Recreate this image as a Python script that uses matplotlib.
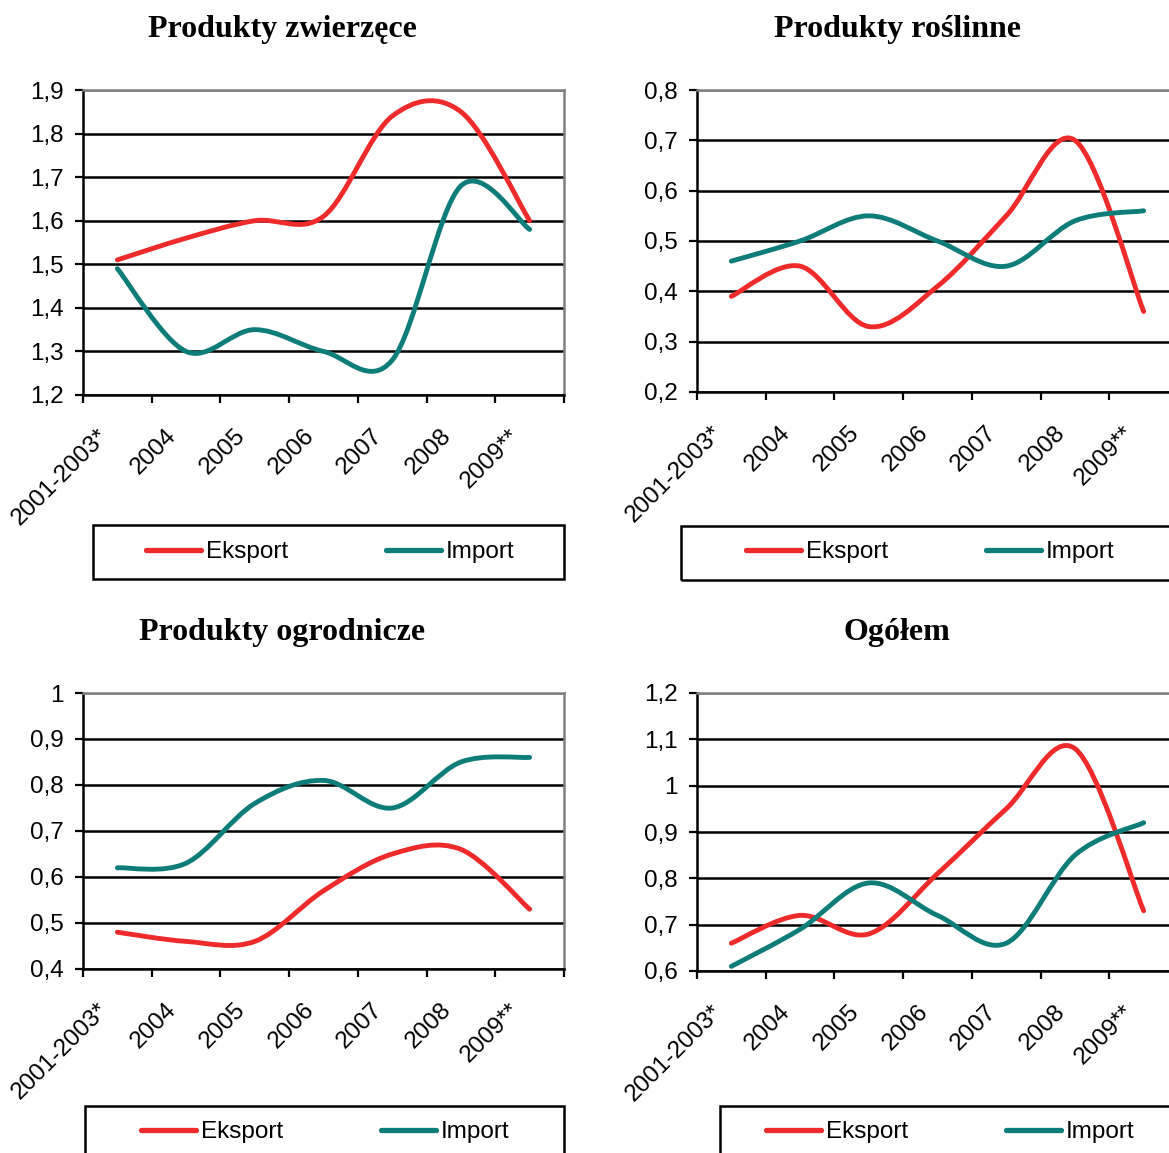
import numpy as np
import matplotlib
matplotlib.use('Agg')
import matplotlib.pyplot as plt
from matplotlib.path import Path
from matplotlib.patches import PathPatch, Rectangle
from matplotlib.lines import Line2D
from matplotlib.ticker import FixedLocator, FuncFormatter, NullFormatter
from matplotlib.transforms import ScaledTranslation

plt.rcParams['font.family'] = ['Liberation Sans', 'DejaVu Sans']

RED = '#EE2A2A'
TEAL = '#0E7C78'
BORDER = '#808080'

W, H = 1169, 1153

categories = ['2001-2003*', '2004', '2005', '2006', '2007', '2008', '2009**']

zw_export = [1.51, 1.56, 1.60, 1.61, 1.84, 1.85, 1.60]
zw_import = [1.49, 1.30, 1.35, 1.30, 1.28, 1.68, 1.58]

ros_export = [0.39, 0.45, 0.33, 0.41, 0.55, 0.70, 0.36]
ros_import = [0.46, 0.50, 0.55, 0.50, 0.45, 0.54, 0.56]

ogr_export = [0.48, 0.46, 0.46, 0.57, 0.65, 0.66, 0.53]
ogr_import = [0.62, 0.63, 0.76, 0.81, 0.75, 0.85, 0.86]

ogol_export = [0.66, 0.72, 0.68, 0.81, 0.95, 1.08, 0.73]
ogol_import = [0.61, 0.69, 0.79, 0.72, 0.66, 0.85, 0.92]

titles = ['Produkty zwierzęce', 'Produkty roślinne', 'Produkty ogrodnicze', 'Ogółem']


def px_rect(l, t, r, b):
    return [l / W, 1 - b / H, (r - l) / W, (b - t) / H]


def smooth_path(xs, ys):
    # Excel-style smoothed line: cubic Bezier segments through every point
    pts = np.column_stack([xs, ys])
    n = len(pts)
    verts = [pts[0]]
    codes = [Path.MOVETO]
    for i in range(n - 1):
        p_prev = pts[max(i - 1, 0)]
        p_next = pts[min(i + 2, n - 1)]
        c1 = pts[i] + (pts[i + 1] - p_prev) / 6
        c2 = pts[i + 1] - (p_next - pts[i]) / 6
        verts += [c1, c2, pts[i + 1]]
        codes += [Path.CURVE4] * 3
    return Path(verts, codes)


def comma_fmt(v, pos):
    return f'{round(v, 2):g}'.replace('.', ',')


panels = [
    # title, export, import, (ymin, ymax), axes px, title pos, legend box px, legend centre
    (titles[0], zw_export, zw_import, (1.2, 1.9), (83, 90, 564, 395), (282, 37),
     (93, 525, 564, 579), (330, 552)),
    (titles[1], ros_export, ros_import, (0.2, 0.8), (697, 90, 1178, 392), (897, 37),
     (681, 526, 1179, 580), (930, 552)),
    (titles[2], ogr_export, ogr_import, (0.4, 1.0), (83, 693, 564, 969), (282, 640),
     (85, 1106, 564, 1160), (325, 1132)),
    (titles[3], ogol_export, ogol_import, (0.6, 1.2), (697, 693, 1178, 971), (897, 640),
     (720, 1106, 1180, 1160), (950, 1132)),
]

fig = plt.figure(figsize=(W / 100, H / 100), dpi=100, facecolor='white')

x = np.arange(len(categories)) + 0.5
TICK_FS = 17.5

for title, exp, imp, (ymin, ymax), ax_px, t_pos, box_px, leg_c in panels:
    ax = fig.add_axes(px_rect(*ax_px))
    ax.set_xlim(0, len(categories))
    ax.set_ylim(ymin, ymax)

    for vals, col in [(exp, RED), (imp, TEAL)]:
        patch = PathPatch(smooth_path(x, vals), fill=False, edgecolor=col,
                          lw=3.5, capstyle='round', joinstyle='round', zorder=3)
        ax.add_patch(patch)

    yticks = np.round(np.arange(ymin, ymax + 0.05, 0.1), 2)
    ax.yaxis.set_major_locator(FixedLocator(yticks))
    ax.yaxis.set_major_formatter(FuncFormatter(comma_fmt))
    ax.xaxis.set_major_locator(FixedLocator(np.arange(len(categories) + 1)))
    ax.xaxis.set_major_formatter(NullFormatter())
    ax.xaxis.set_minor_locator(FixedLocator(x))
    ax.set_xticklabels(categories, minor=True)

    ax.tick_params(axis='y', which='major', direction='out', length=6, width=1.6,
                   pad=8, labelsize=TICK_FS, color='black')
    ax.tick_params(axis='x', which='major', direction='out', length=6, width=1.6,
                   color='black')
    ax.tick_params(axis='x', which='minor', length=0, pad=27, labelsize=TICK_FS)
    shift = ScaledTranslation(-13 / 100, 0, fig.dpi_scale_trans)
    for lab in ax.get_xticklabels(minor=True):
        lab.set_rotation(45)
        lab.set_ha('right')
        lab.set_va('center')
        lab.set_rotation_mode('anchor')
        lab.set_transform(lab.get_transform() + shift)

    ax.set_axisbelow(True)
    ax.grid(True, axis='y', color='black', lw=1.8)
    ax.grid(False, axis='x')
    ax.get_ygridlines()[-1].set_color(BORDER)

    for side in ['left', 'bottom']:
        ax.spines[side].set_color('black')
        ax.spines[side].set_linewidth(1.8)
    for side in ['top', 'right']:
        ax.spines[side].set_color(BORDER)
        ax.spines[side].set_linewidth(1.8)

    fig.text(t_pos[0] / W, 1 - t_pos[1] / H, title, ha='center', va='baseline',
             fontsize=23, fontweight='bold', family='Liberation Serif')

    # legend frame
    l, t, r, b = box_px
    fig.add_artist(Rectangle((l / W, 1 - b / H), (r - l) / W, (b - t) / H,
                             transform=fig.transFigure, fill=False,
                             edgecolor='black', lw=1.8))
    handles = [Line2D([], [], color=RED, lw=3.8, solid_capstyle='round'),
               Line2D([], [], color=TEAL, lw=3.8, solid_capstyle='round')]
    fs = 17.5
    fs_px = fs * 100 / 72
    ax.legend(handles, ['Eksport', 'Import'], loc='center',
              bbox_to_anchor=(leg_c[0] / W, 1 - leg_c[1] / H),
              bbox_transform=fig.transFigure, ncol=2, frameon=False,
              fontsize=fs, handlelength=55 / fs_px, handletextpad=5 / fs_px,
              columnspacing=98 / fs_px, borderpad=0, borderaxespad=0)

fig.savefig('out.png', dpi=100, facecolor='white')
plt.close(fig)
